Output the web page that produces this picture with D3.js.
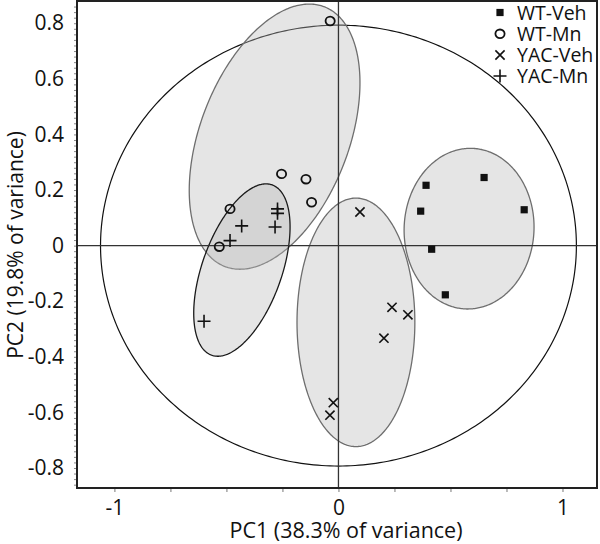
<!DOCTYPE html>
<html><head><meta charset="utf-8">
<script src="https://cdn.jsdelivr.net/npm/d3@7"></script>
<style>body{margin:0;background:#fff}svg text{font-family:"Open Sans",sans-serif;fill:#111}</style>
</head><body><svg id="c" width="600" height="544"></svg>
<script>
// ---- data ----
const groups = ["WT-Veh", "WT-Mn", "YAC-Veh", "YAC-Mn"];
const wtVehPC1 = [0.391, 0.650, 0.367, 0.829, 0.416, 0.477];
const wtVehPC2 = [0.217, 0.245, 0.124, 0.129, -0.013, -0.177];
const wtMnPC1 = [-0.037, -0.254, -0.145, -0.120, -0.484, -0.532];
const wtMnPC2 = [0.808, 0.258, 0.239, 0.156, 0.132, -0.004];
const yacVehPC1 = [0.096, 0.239, 0.310, 0.203, -0.023, -0.038];
const yacVehPC2 = [0.121, -0.222, -0.249, -0.333, -0.565, -0.610];
const yacMnPC1 = [-0.272, -0.272, -0.432, -0.283, -0.484, -0.600];
const yacMnPC2 = [0.132, 0.116, 0.071, 0.067, 0.018, -0.272];
// group ellipses: centre, half extents along PC1/PC2, correlation
const ellGroups = ["WT-Mn", "YAC-Mn", "YAC-Veh", "WT-Veh"];
const ellCX = [-0.285, -0.431, 0.078, 0.583];
const ellCY = [0.392, -0.088, -0.276, 0.061];
const ellHX = [0.381, 0.215, 0.263, 0.290];
const ellHY = [0.477, 0.310, 0.447, 0.289];
const ellRho = [0.406, 0.50, 0.0, 0.02];
// outer reference ellipse
const outerCX = 0, outerCY = 0, outerHX = 1.062, outerHY = 0.793;
const xTickLabels = [-1, 0, 1];
const yTickLabels = [-0.8, -0.6, -0.4, -0.2, 0, 0.2, 0.4, 0.6, 0.8];
const xTitle = "PC1 (38.3% of variance)";
const yTitle = "PC2 (19.8% of variance)";

const series = [
  {name: "WT-Veh", shape: "square", pc1: wtVehPC1, pc2: wtVehPC2},
  {name: "WT-Mn", shape: "circle", pc1: wtMnPC1, pc2: wtMnPC2},
  {name: "YAC-Veh", shape: "cross", pc1: yacVehPC1, pc2: yacVehPC2},
  {name: "YAC-Mn", shape: "plus", pc1: yacMnPC1, pc2: yacMnPC2}
];

// ---- layout ----
const L = 77, R = 597, T = 1, B = 488;
const svg = d3.select("#c");
const x = d3.scaleLinear().domain([-1.167, 1.154]).range([L, R]);
const y = d3.scaleLinear().domain([0.880, -0.872]).range([T, B]);
const fmt = v => (v === 0 ? "0" : String(v)).replace("\u2212", "-");

svg.append("clipPath").attr("id", "clp").append("rect")
  .attr("x", L).attr("y", T).attr("width", R - L).attr("height", B - T);
const plot = svg.append("g").attr("clip-path", "url(#clp)");

function ellPath(cx, cy, hx, hy, rho) {
  const pts = d3.range(0, 361).map(i => {
    const t = i / 360 * 2 * Math.PI;
    return [x(cx + hx * Math.cos(t)), y(cy + hy * (rho * Math.cos(t) + Math.sqrt(1 - rho * rho) * Math.sin(t)))];
  });
  return d3.line()(pts) + "Z";
}

// outer ellipse
plot.append("path").attr("d", ellPath(outerCX, outerCY, outerHX, outerHY, 0))
  .attr("fill", "none").attr("stroke", "#111").attr("stroke-width", 1.2);

// group ellipses
const ellStroke = {"WT-Mn": "#6e6e6e", "YAC-Mn": "#1a1a1a", "YAC-Veh": "#6e6e6e", "WT-Veh": "#6e6e6e"};
ellGroups.forEach((g, i) => {
  plot.append("path").attr("d", ellPath(ellCX[i], ellCY[i], ellHX[i], ellHY[i], ellRho[i]))
    .attr("fill", "#b9b9b9").attr("fill-opacity", 0.37)
    .attr("stroke", ellStroke[g]).attr("stroke-width", 1.3);
});

// zero lines
plot.append("line").attr("x1", L).attr("x2", R).attr("y1", y(0)).attr("y2", y(0))
  .attr("stroke", "#333").attr("stroke-width", 1.3);
plot.append("line").attr("x1", x(0)).attr("x2", x(0)).attr("y1", T).attr("y2", B)
  .attr("stroke", "#333").attr("stroke-width", 1.3);

// markers
function drawMarker(sel, shape) {
  if (shape === "square") {
    sel.append("rect").attr("x", -3.6).attr("y", -3.6).attr("width", 7.2).attr("height", 7.2).attr("fill", "#111");
  } else if (shape === "circle") {
    sel.append("ellipse").attr("rx", 4.6).attr("ry", 4.3).attr("fill", "none").attr("stroke", "#111").attr("stroke-width", 1.8);
  } else if (shape === "cross") {
    sel.append("path").attr("d", "M-4.6,-4.6L4.6,4.6M-4.6,4.6L4.6,-4.6").attr("stroke", "#111").attr("stroke-width", 1.6);
  } else {
    sel.append("path").attr("d", "M-6.5,0L6.5,0M0,-6.5L0,6.5").attr("stroke", "#111").attr("stroke-width", 1.6);
  }
}
series.forEach(s => {
  s.pc1.forEach((v, i) => {
    const g = plot.append("g").attr("transform", `translate(${x(v)},${y(s.pc2[i])})`);
    drawMarker(g, s.shape);
  });
});

// frame
svg.append("rect").attr("x", L).attr("y", T).attr("width", R - L).attr("height", B - T)
  .attr("fill", "none").attr("stroke", "#222").attr("stroke-width", 2);

// axes
const yAx = svg.append("g").attr("transform", `translate(${L},0)`)
  .call(d3.axisLeft(y).tickValues(yTickLabels).tickFormat(fmt).tickSize(0).tickPadding(13));
yAx.select(".domain").remove();
yAx.selectAll("text").attr("font-size", 21).style("font-family", "'Open Sans',sans-serif").attr("fill", "#111");
const yMinor = svg.append("g").attr("transform", `translate(${L - 1},0)`)
  .call(d3.axisLeft(y).tickValues(d3.range(-43, 44).map(k => k * 0.02)).tickFormat("").tickSize(2));
yMinor.select(".domain").remove();
yMinor.selectAll("line").attr("stroke", "#888");

const xAx = svg.append("g").attr("transform", `translate(0,${B})`)
  .call(d3.axisBottom(x).tickValues(xTickLabels).tickFormat(fmt).tickSize(0).tickPadding(12));
xAx.select(".domain").remove();
xAx.selectAll("text").attr("font-size", 21).style("font-family", "'Open Sans',sans-serif").attr("fill", "#111");
const xMinor = svg.append("g").attr("transform", `translate(0,${B + 1})`)
  .call(d3.axisBottom(x).tickValues(d3.range(-4, 5).map(k => k * 0.25)).tickFormat("").tickSize(3));
xMinor.select(".domain").remove();
xMinor.selectAll("line").attr("stroke", "#777");

// titles
svg.append("text").attr("x", 346).attr("y", 538).attr("text-anchor", "middle")
  .attr("font-size", 21.5).text(xTitle);
svg.append("text").attr("transform", "translate(22.5,245) rotate(-90)").attr("text-anchor", "middle")
  .attr("font-size", 21).text(yTitle);

// legend
const legY = [12.5, 33.8, 55, 76];
series.forEach((s, i) => {
  const g = svg.append("g").attr("transform", `translate(500,${legY[i]})`);
  drawMarker(g, s.shape);
  svg.append("text").attr("x", 517).attr("y", legY[i] + 7).attr("font-size", 19.5).text(groups[i]);
});
</script></body></html>
